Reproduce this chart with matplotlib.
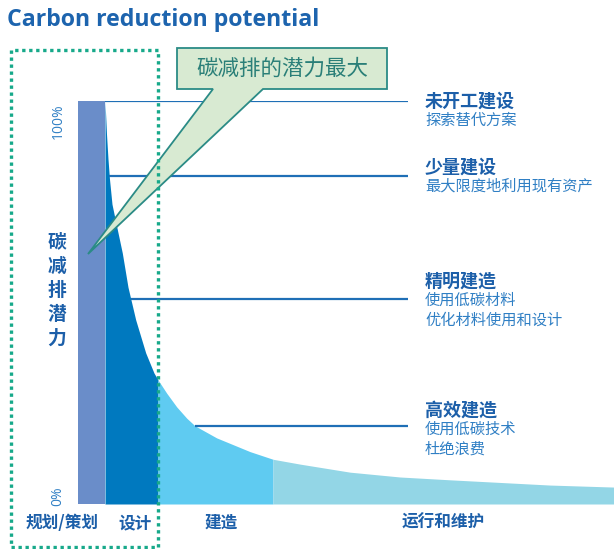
import numpy as np
import matplotlib
matplotlib.use("Agg")
import matplotlib.pyplot as plt
from matplotlib.patches import Rectangle, Polygon

W, H = 614, 549

# --- data (x = position along building life cycle, y = % reduction potential) ---
stage_names = ["规划/策划", "设计", "建造", "运行和维护"]
stage_edges = [0, 27, 80, 195, 536]
stage_colors = ["#6a8dc9", "#0079bf", "#5fcbf1", "#93d6e6"]

curve_x = [27, 28.5, 30, 31.5, 34, 37.7, 44.3, 50, 57.7, 67.7, 76, 80, 88.7, 98.7,
           108.7, 117, 138.7, 172, 195, 222, 272, 322, 372, 472, 536]
curve_y = [100, 91.8, 85.6, 80.6, 74.4, 70.0, 62.3, 53.8, 45.7, 37.5, 32.5, 30.8, 27.5, 24.1,
           21.3, 19.4, 16.4, 13.0, 11.1, 9.9, 7.9, 6.7, 6.0, 4.7, 4.2]

line_levels = [100, 81.4, 50.9, 19.4]
headings = ["未开工建设", "少量建设", "精明建造", "高效建造"]
details = [["探索替代方案"],
           ["最大限度地利用现有资产"],
           ["使用低碳材料", "优化材料使用和设计"],
           ["使用低碳技术", "杜绝浪费"]]
heading_y = [101, 167, 281, 410]      # pixel rows
callout_text = "碳减排的潜力最大"
axis_title = "碳减排潜力"

CJK = ["Noto Sans CJK SC", "DejaVu Sans"]
BLUE_DARK = "#1c5fa9"
BLUE_TXT = "#2f7fc4"
LINE_C = "#1f6fb6"
GREEN = "#17a98a"


def px(x, y):
    return x / W, 1 - y / H


fig = plt.figure(figsize=(W / 100, H / 100), dpi=100)
ax = fig.add_axes([78 / W, (H - 504) / H, (614 - 78) / W, (504 - 101) / H])
ax.set_xlim(stage_edges[0], stage_edges[-1])
ax.set_ylim(0, 100)
ax.axis("off")

cx = np.array(curve_x)
cy = np.array(curve_y)

# first stage is a full bar
ax.bar(stage_edges[0], 100, width=stage_edges[1] - stage_edges[0], align="edge",
       color=stage_colors[0], linewidth=0)
for i in range(1, len(stage_names)):
    m = (cx >= stage_edges[i]) & (cx <= stage_edges[i + 1])
    ax.fill_between(cx[m], 0, cy[m], color=stage_colors[i], linewidth=0)

# leader lines to the annotations
line_end = 330
for lvl in line_levels:
    start = np.interp(lvl, cy[::-1], cx[::-1])
    ax.plot([start, line_end], [lvl, lvl], color=LINE_C, lw=1.6, solid_capstyle="butt")

# annotations on the right
for head, det, hy in zip(headings, details, heading_y):
    fig.text(*px(425, hy), head, family=CJK, fontsize=13, fontweight="bold",
             color=BLUE_DARK, va="center", ha="left")
    for j, d in enumerate(det):
        fig.text(*px(425, hy + 19 + 20 * j), d, family=CJK, fontsize=11,
                 color=BLUE_TXT, va="center", ha="left")

# stage names under the chart
stage_label_x = [62, 135, 221, 443]
for name, lx in zip(stage_names, stage_label_x):
    fig.text(*px(lx, 523), name, family=CJK, fontsize=12, fontweight="bold",
             color=BLUE_DARK, va="center", ha="center")

# y axis labels
fig.text(*px(58, 121), "100%", fontsize=10, color=BLUE_TXT, rotation=90,
         va="center", ha="center", family=["Open Sans", "DejaVu Sans"])
fig.text(*px(58, 496), "0%", fontsize=10, color=BLUE_TXT, rotation=90,
         va="center", ha="center", family=["Open Sans", "DejaVu Sans"])
for k, ch in enumerate(axis_title):
    fig.text(*px(57, 242 + 24 * k), ch, family=CJK, fontsize=13.5, fontweight="bold",
             color=BLUE_DARK, va="center", ha="center")

# title
fig.text(*px(7, 20), "Carbon reduction potential", family=["Open Sans", "DejaVu Sans"],
         fontsize=16.7, fontweight="bold", color="#1d64ae", va="center", ha="left")

# callout bubble
pts = [(177, 48), (387, 48), (387, 89), (263, 89), (88, 254), (213, 89), (177, 89)]
bubble = Polygon([px(x, y) for x, y in pts], closed=True, transform=fig.transFigure,
                 facecolor="#d8ead2", edgecolor="#2b8b86", lw=1.3, zorder=5)
fig.patches.append(bubble)
fig.text(*px(282, 69), callout_text, family=CJK, fontsize=15.5, color="#2a7f78",
         va="center", ha="center", zorder=6)

# dotted frame around the early stages
x0, y0 = px(11, 547)
x1, y1 = px(158, 50)
frame = Rectangle((x0, y0), x1 - x0, y1 - y0, transform=fig.transFigure, fill=False,
                  edgecolor=GREEN, lw=2.4, linestyle=(0, (1, 1.1)), zorder=7)
fig.patches.append(frame)

fig.savefig("out.png", dpi=100)
